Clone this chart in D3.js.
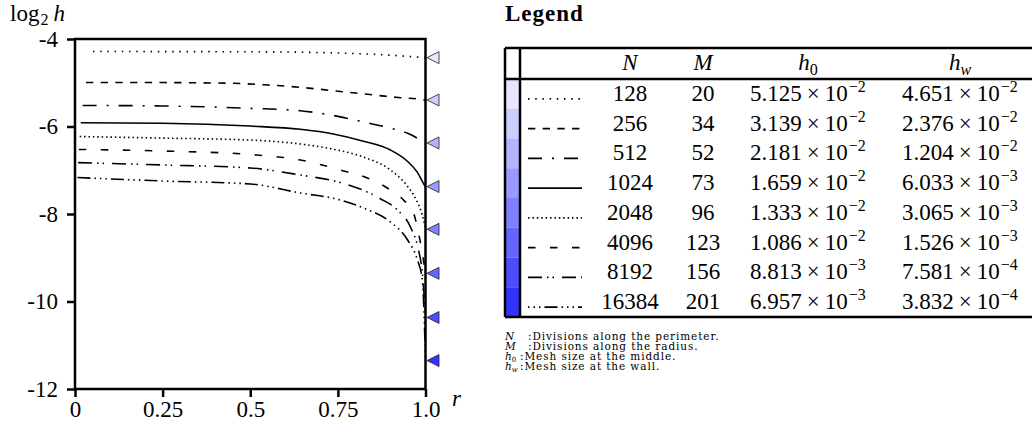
<!DOCTYPE html>
<html>
<head>
<meta charset="utf-8">
<script src="https://cdn.jsdelivr.net/npm/d3@7"></script>
<style>
  body { margin: 0; background: #fff; }
  svg { display: block; font-family: "Liberation Serif", serif; }
</style>
</head>
<body>
<div id="chart"></div>
<script>
// mesh data (legend table)
const divisionsN = [128, 256, 512, 1024, 2048, 4096, 8192, 16384];
const divisionsM = [20, 34, 52, 73, 96, 123, 156, 201];
const hMiddle = [5.125e-2, 3.139e-2, 2.181e-2, 1.659e-2, 1.333e-2, 1.086e-2, 8.813e-3, 6.957e-3];
const hWall = [4.651e-2, 2.376e-2, 1.204e-2, 6.033e-3, 3.065e-3, 1.526e-3, 7.581e-4, 3.832e-4];

const profiles = [
  [[0.25, -4.288], [0.5, -4.292], [0.75, -4.32], [0.9, -4.37], [0.98, -4.415]],
  [[0.25, -4.996], [0.452, -5.013], [0.549, -5.051], [0.643, -5.104], [0.737, -5.182], [0.834, -5.264], [0.929, -5.342], [0.986, -5.379]],
  [[0.25, -5.53], [0.5, -5.585], [0.643, -5.64], [0.729, -5.737], [0.82, -5.89], [0.9, -6.04], [0.949, -6.155], [0.994, -6.347]],
  [[0.25, -5.925], [0.5, -5.99], [0.643, -6.064], [0.737, -6.17], [0.82, -6.33], [0.9, -6.537], [0.949, -6.8], [0.977, -7.05], [0.994, -7.298]],
  [[0.25, -6.265], [0.5, -6.31], [0.643, -6.4], [0.737, -6.52], [0.82, -6.69], [0.9, -6.994], [0.945, -7.33], [0.972, -7.65], [0.988, -7.95], [0.995, -8.15]],
  [[0.25, -6.56], [0.5, -6.64], [0.643, -6.766], [0.757, -6.994], [0.834, -7.177], [0.891, -7.406], [0.937, -7.68], [0.966, -7.977], [0.98, -8.434], [0.991, -8.891]],
  [[0.25, -6.88], [0.5, -6.949], [0.643, -7.109], [0.757, -7.28], [0.82, -7.45], [0.871, -7.65], [0.92, -7.909], [0.957, -8.297], [0.98, -8.823], [0.991, -9.349]],
  [[0.25, -7.246], [0.5, -7.314], [0.643, -7.52], [0.757, -7.68], [0.823, -7.863], [0.9, -8.183], [0.949, -8.594], [0.977, -9.051], [0.991, -9.509]]
];

const xTicks = [0, 0.25, 0.5, 0.75, 1];
const xTickLabels = ["0", "0.25", "0.5", "0.75", "1.0"];
const yTicks = [-4, -6, -8, -10, -12];

const footnotes = [
  ["N", "", "Divisions along the perimeter."],
  ["M", "", "Divisions along the radius."],
  ["h", "0", "Mesh size at the middle."],
  ["h", "w", "Mesh size at the wall."]
];

// styles
const shades = ["#e6e6ff", "#ccccff", "#b3b3ff", "#9999ff", "#8080ff", "#6666ff", "#4d4dff", "#3333ff"];
const dashes = ["1.5,5.7", "7.3,7.4", "14,10,2,10", null, "1.5,2.9", "7.5,14.5", "14,5,1.5,4,1.5,8", "13,4,1.5,4,1.5,4,1.5,4"];

const width = 1032, height = 433;
const svg = d3.select("#chart").append("svg")
  .attr("width", width)
  .attr("height", height);

const x = d3.scaleLinear().domain([0, 1]).range([75, 425.5]);
const y = d3.scaleLinear().domain([-12, -4]).range([389, 39]);

// curves
const series = hMiddle.map((h0, i) => [[h0, Math.log2(h0)], ...profiles[i], [1, Math.log2(hWall[i])]]);

const line = d3.line()
  .x(d => x(d[0]))
  .y(d => y(d[1]))
  .curve(d3.curveMonotoneX);

svg.append("g").selectAll("path")
  .data(series)
  .join("path")
  .attr("d", line)
  .attr("fill", "none")
  .attr("stroke", "#000")
  .attr("stroke-width", 1.6)
  .attr("stroke-dasharray", (d, i) => dashes[i]);

// axes
const yAxis = svg.append("g")
  .attr("transform", `translate(${x(0)},0)`)
  .call(d3.axisLeft(y).tickValues(yTicks).tickSize(8).tickPadding(9).tickFormat(d => String(d)));

const xAxis = svg.append("g")
  .attr("transform", `translate(0,${y(-12)})`)
  .call(d3.axisBottom(x).tickValues(xTicks).tickSize(8).tickPadding(4).tickFormat((d, i) => xTickLabels[i]));

[yAxis, xAxis].forEach(g => {
  g.select(".domain").remove();
  g.selectAll("line").attr("stroke", "#000").attr("stroke-width", 2.5);
  g.selectAll("text")
    .attr("font-family", "Liberation Serif")
    .attr("font-size", 23)
    .attr("fill", "#000");
});

svg.append("rect")
  .attr("x", x(0))
  .attr("y", y(-4))
  .attr("width", x(1) - x(0))
  .attr("height", y(-12) - y(-4))
  .attr("fill", "none")
  .attr("stroke", "#000")
  .attr("stroke-width", 2.5);

// wall markers
svg.append("g").selectAll("path")
  .data(hWall)
  .join("path")
  .attr("d", d => {
    const ty = y(Math.log2(d)), tx = x(1) + 1.5;
    return `M${tx},${ty}L${tx + 12},${ty - 6}L${tx + 12},${ty + 6}Z`;
  })
  .attr("fill", (d, i) => shades[i])
  .attr("stroke", "#222")
  .attr("stroke-width", 0.8);

// axis titles
const yTitle = svg.append("text").attr("x", 10).attr("y", 21).attr("font-size", 23);
yTitle.append("tspan").text("log");
yTitle.append("tspan").attr("font-size", 16).attr("dy", 4).attr("dx", 1).text("2");
yTitle.append("tspan").attr("font-style", "italic").attr("dy", -4).attr("dx", 5).text("h");

svg.append("text")
  .attr("x", 452).attr("y", 406)
  .attr("font-size", 23)
  .attr("font-style", "italic")
  .text("r");

// legend table
svg.append("text")
  .attr("x", 505).attr("y", 21)
  .attr("font-size", 23)
  .attr("font-weight", "bold")
  .attr("letter-spacing", 1)
  .text("Legend");

const tLeft = 505, tRight = 1032, tTop = 48, headBottom = 79, rowH = 29.75;
const tBottom = headBottom + rowH * divisionsN.length;
const colN = 630, colM = 703, colH0 = 808, colHw = 960;

const table = svg.append("g");

table.selectAll("rect")
  .data(shades)
  .join("rect")
  .attr("x", tLeft)
  .attr("y", (d, i) => headBottom + i * rowH)
  .attr("width", 520 - tLeft)
  .attr("height", rowH)
  .attr("fill", d => d);

[[tLeft, tTop, tRight, tTop], [tLeft, headBottom, tRight, headBottom], [tLeft, tBottom, tRight, tBottom],
 [tLeft, tTop, tLeft, tBottom], [520, tTop, 520, tBottom]].forEach(s => {
  table.append("line")
    .attr("x1", s[0]).attr("y1", s[1]).attr("x2", s[2]).attr("y2", s[3])
    .attr("stroke", "#000").attr("stroke-width", 2.5);
});

function symbol(g, cx, cy, main, sub, size) {
  const t = g.append("text").attr("x", cx).attr("y", cy).attr("font-size", size).attr("text-anchor", "middle");
  t.append("tspan").attr("font-style", "italic").text(main);
  if (sub) {
    t.append("tspan")
      .attr("font-size", size * 0.7)
      .attr("font-style", sub === "w" ? "italic" : "normal")
      .attr("dy", size * 0.22)
      .text(sub);
  }
  return t;
}

symbol(table, colN, 70, "N", "", 23);
symbol(table, colM, 70, "M", "", 23);
symbol(table, colH0, 70, "h", "0", 23);
symbol(table, colHw, 70, "h", "w", 23);

function sci(g, cx, cy, v) {
  const [m, e] = v.toExponential(3).split("e");
  const t = g.append("text").attr("x", cx).attr("y", cy).attr("font-size", 23).attr("text-anchor", "middle");
  t.append("tspan").text(m);
  t.append("tspan").attr("dx", 5).text("\u00d7");
  t.append("tspan").attr("dx", 5).text("10");
  t.append("tspan").attr("font-size", 16).attr("dy", -9).attr("dx", 1).text("\u2212" + Math.abs(+e));
}

divisionsN.forEach((n, i) => {
  const base = headBottom + i * rowH + rowH / 2 + 7;
  table.append("line")
    .attr("x1", 528).attr("x2", 582)
    .attr("y1", base - 2).attr("y2", base - 2)
    .attr("stroke", "#000")
    .attr("stroke-width", 1.8)
    .attr("stroke-dasharray", dashes[i])
    .attr("stroke-dashoffset", i === 7 ? 17 : 0);
  table.append("text").attr("x", colN).attr("y", base).attr("font-size", 23).attr("text-anchor", "middle").text(n);
  table.append("text").attr("x", colM).attr("y", base).attr("font-size", 23).attr("text-anchor", "middle").text(divisionsM[i]);
  sci(table, colH0, base, hMiddle[i]);
  sci(table, colHw, base, hWall[i]);
});

// footnotes
footnotes.forEach((f, i) => {
  const by = 340 + i * 10;
  const t = svg.append("text")
    .attr("x", 505).attr("y", by)
    .attr("font-family", "DejaVu Serif")
    .attr("font-size", 10.5);
  t.append("tspan").attr("font-style", "italic").text(f[0]);
  if (f[1]) t.append("tspan").attr("font-size", 7).attr("dy", 2).attr("font-style", f[1] === "w" ? "italic" : "normal").text(f[1]);
  svg.append("text")
    .attr("x", f[1] ? 520 : 528).attr("y", by)
    .attr("font-family", "DejaVu Serif")
    .attr("font-size", 10.5)
    .attr("letter-spacing", 0.9)
    .text(":" + f[2]);
});
</script>
</body>
</html>
